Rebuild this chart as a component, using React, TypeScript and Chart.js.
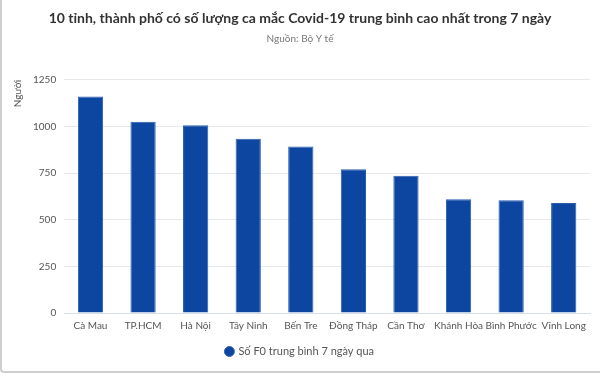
import React, { useEffect, useRef } from "react";
import { Chart, registerables } from "chart.js";

Chart.register(...registerables);

const categories = ["Cà Mau", "TP.HCM", "Hà Nội", "Tây Ninh", "Bến Tre", "Đồng Tháp", "Cần Thơ", "Khánh Hòa", "Bình Phước", "Vĩnh Long"];
const values = [1160, 1025, 1007, 934, 892, 770, 736, 610, 605, 590];
const seriesLabel = "Số F0 trung bình 7 ngày qua";
const titleText = "10 tỉnh, thành phố có số lượng ca mắc Covid-19 trung bình cao nhất trong 7 ngày";
const subtitleText = "Nguồn: Bộ Y tế";
const yTitle = "Người";

const FONT = "Lato, 'Noto Sans', sans-serif";

export default function App() {
  const ref = useRef<HTMLCanvasElement | null>(null);
  useEffect(() => {
    document.body.style.margin = "0";
    const ctx = ref.current!;
    const chart = new Chart(ctx, {
      type: "bar",
      data: {
        labels: categories,
        datasets: [
          {
            label: seriesLabel,
            data: values,
            backgroundColor: "#0d46a0",
            borderColor: "#2a5cb0",
            borderWidth: 1,
            barPercentage: 0.6,
            categoryPercentage: 0.8,
          },
        ],
      },
      options: {
        animation: false,
        responsive: false,
        layout: { padding: { left: 8, right: 10, top: 6, bottom: 4 } },
        plugins: {
          title: {
            display: true,
            text: titleText,
            color: "#333",
            font: { family: FONT, size: 14, weight: "bold" },
            padding: { top: 4, bottom: 6 },
          },
          subtitle: {
            display: true,
            text: subtitleText,
            color: "#777",
            font: { family: FONT, size: 10 },
            padding: { top: 0, bottom: 35 },
          },
          legend: {
            position: "bottom",
            labels: {
              usePointStyle: true,
              pointStyle: "circle",
              boxWidth: 7,
              boxHeight: 7,
              color: "#555",
              font: { family: FONT, size: 11 },
              padding: 7,
            },
          },
          tooltip: { enabled: false },
        },
        scales: {
          x: {
            grid: { display: false, drawTicks: false },
            border: { color: "#d6deea" },
            ticks: { color: "#555", font: { family: FONT, size: 10 }, padding: 7, maxRotation: 0, autoSkip: false },
          },
          y: {
            min: 0,
            max: 1250,
            ticks: {
              stepSize: 250,
              color: "#555",
              font: { family: FONT, size: 10 },
              padding: 8,
              callback: (v: any) => String(v),
            },
            grid: { color: "#e8e8e8", drawTicks: false },
            border: { display: false },
            title: {
              display: true,
              text: yTitle,
              align: "end",
              color: "#555",
              font: { family: FONT, size: 10 },
              padding: { top: 2, bottom: 1 },
            },
          },
        },
      },
    });
    return () => chart.destroy();
  }, []);
  return (
    <div
      style={{
        width: 600,
        height: 373,
        boxSizing: "border-box",
        borderLeft: "2px solid #cfcfcf",
        borderBottom: "2px solid #cfcfcf",
        borderBottomLeftRadius: 4,
        overflow: "hidden",
        background: "#fff",
      }}
    >
      <canvas ref={ref} width={598} height={371} />
    </div>
  );
}
